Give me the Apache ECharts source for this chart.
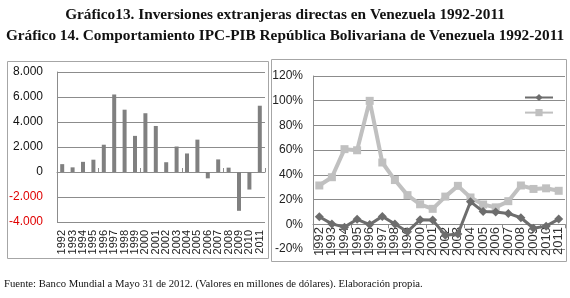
<!DOCTYPE html>
<html>
<head>
<meta charset="utf-8">
<script src="https://cdn.jsdelivr.net/npm/echarts@6/dist/echarts.min.js"></script>
<style>
  html, body { margin: 0; padding: 0; background: #fff; }
  #main { width: 570px; height: 298px; }
</style>
</head>
<body>
<div id="main"></div>
<script>
// años
var years = ['1992','1993','1994','1995','1996','1997','1998','1999','2000','2001',
             '2002','2003','2004','2005','2006','2007','2008','2009','2010','2011'];
// Inversión extranjera directa (millones de US$)
var ied = [629, 372, 813, 985, 2183, 6202, 4985, 2890, 4701, 3683,
           782, 2040, 1483, 2589, -508, 1008, 349, -3105, -1404, 5302];
// variación % PIB
var pib = [6.1, 0.3, -2.3, 4.0, -0.2, 6.4, 0.3, -6.0, 3.7, 3.4,
           -8.9, -7.8, 18.3, 10.3, 9.9, 8.8, 5.3, -3.2, -1.5, 4.2];
// inflación % IPC
var ipc = [31.4, 38.1, 60.8, 59.9, 99.9, 50.0, 35.8, 23.6, 16.2, 12.5,
           22.4, 31.1, 21.7, 16.0, 13.7, 18.7, 31.4, 28.6, 29.1, 27.1];
var leftTicks = [-4000, 8000, 2000];   // min, max, intervalo
var rightTicks = [-20, 120, 20];

var myChart = echarts.init(document.getElementById('main'));

function miles(v) {
    if (v === 0) return '0';
    var s = Math.abs(v).toString();
    s = s.replace(/\B(?=(\d{3})+(?!\d))/g, '.');
    return (v < 0 ? '-' : '') + s;
}

var option = {
    backgroundColor: '#fff',
    animation: false,
    graphic: [
        { type: 'rect', shape: { x: 7.5, y: 61.5, width: 261, height: 197 },
          style: { fill: 'none', stroke: '#a6a6a6', lineWidth: 1 } },
        { type: 'rect', shape: { x: 271.5, y: 59.5, width: 295, height: 202 },
          style: { fill: 'none', stroke: '#a6a6a6', lineWidth: 1 } },
        { type: 'text', x: 285, y: 15,
          style: { text: 'Gráfico13. Inversiones extranjeras directas en Venezuela 1992-2011',
                   font: 'bold 15.3px "Liberation Serif"', fill: '#111', align: 'center', verticalAlign: 'middle' } },
        { type: 'text', x: 285, y: 36,
          style: { text: 'Gráfico 14. Comportamiento IPC-PIB República Bolivariana de Venezuela 1992-2011',
                   font: 'bold 15.3px "Liberation Serif"', fill: '#111', align: 'center', verticalAlign: 'middle' } },
        { type: 'text', x: 4, y: 284,
          style: { text: 'Fuente: Banco Mundial a Mayo 31 de 2012. (Valores en millones de dólares). Elaboración propia.',
                   font: '10.7px "Liberation Serif"', fill: '#111', align: 'left', verticalAlign: 'middle' } }
    ],
    legend: {
        data: ['PIB', 'IPC'],
        orient: 'vertical',
        right: 11,
        top: 88,
        itemWidth: 28,
        itemHeight: 9,
        itemGap: 7,
        formatter: function () { return ''; },
        textStyle: { fontSize: 1 }
    },
    grid: [
        { left: 57, top: 72, width: 208, height: 150 },
        { left: 313, top: 76, width: 252, height: 173 }
    ],
    xAxis: [
        {   // etiquetas abajo
            gridIndex: 0, type: 'category', data: years, position: 'bottom',
            axisLine: { show: false, onZero: false },
            axisTick: { show: false },
            axisLabel: { interval: 0, rotate: 90, margin: 8, fontFamily: 'Liberation Sans', fontSize: 11, color: '#222' }
        },
        {   // eje en cero
            gridIndex: 0, type: 'category', data: years,
            axisLine: { show: true, onZero: true, lineStyle: { color: '#8c8c8c' } },
            axisTick: { show: true, length: 4, lineStyle: { color: '#8c8c8c' } },
            axisLabel: { show: false }
        },
        {   // eje en cero, gráfico derecho
            gridIndex: 1, type: 'category', data: years,
            axisLine: { show: true, onZero: true, lineStyle: { color: '#8c8c8c' } },
            axisTick: { show: true, length: 4, lineStyle: { color: '#8c8c8c' } },
            axisLabel: { show: false }
        },
        {   // etiquetas junto a la línea de 0%
            gridIndex: 1, type: 'category', data: years, position: 'bottom', offset: -25, z: 0,
            axisLine: { show: false, onZero: false },
            axisTick: { show: false },
            axisLabel: { interval: 0, rotate: 90, margin: 3, fontFamily: 'Liberation Sans', fontSize: 13, color: '#333' }
        }
    ],
    yAxis: [
        {
            gridIndex: 0, type: 'value',
            min: leftTicks[0], max: leftTicks[1], interval: leftTicks[2],
            axisLine: { show: true, lineStyle: { color: '#8c8c8c' } },
            axisTick: { show: false },
            splitLine: { show: true, lineStyle: { color: '#8c8c8c' } },
            axisLabel: {
                margin: 14, fontFamily: 'Liberation Sans', fontSize: 12,
                formatter: miles,
                color: function (v) { return v < 0 ? '#e00000' : '#111'; }
            }
        },
        {
            gridIndex: 1, type: 'value',
            min: rightTicks[0], max: rightTicks[1], interval: rightTicks[2],
            axisLine: { show: true, lineStyle: { color: '#8c8c8c' } },
            axisTick: { show: false },
            splitLine: { show: true, lineStyle: { color: '#8c8c8c' } },
            axisLabel: {
                margin: 10, fontFamily: 'Liberation Sans', fontSize: 12, color: '#222',
                formatter: '{value}%'
            }
        }
    ],
    series: [
        {
            name: 'IED', type: 'bar', xAxisIndex: 0, yAxisIndex: 0,
            data: ied, barWidth: 4,
            itemStyle: { color: '#808080' }
        },
        {
            name: 'IPC', type: 'line', xAxisIndex: 2, yAxisIndex: 1,
            data: ipc, z: 5,
            showAllSymbol: true,
            symbol: 'rect', symbolSize: 8,
            lineStyle: { color: '#c0c0c0', width: 4 },
            itemStyle: { color: '#c0c0c0' }
        },
        {
            name: 'PIB', type: 'line', xAxisIndex: 2, yAxisIndex: 1,
            data: pib, z: 6,
            showAllSymbol: true,
            symbol: 'diamond', symbolSize: 9,
            lineStyle: { color: '#6d6d6d', width: 3 },
            itemStyle: { color: '#6d6d6d' }
        }
    ]
};

if (option && typeof option === 'object') {
    myChart.setOption(option, true);
}
</script>
</body>
</html>
